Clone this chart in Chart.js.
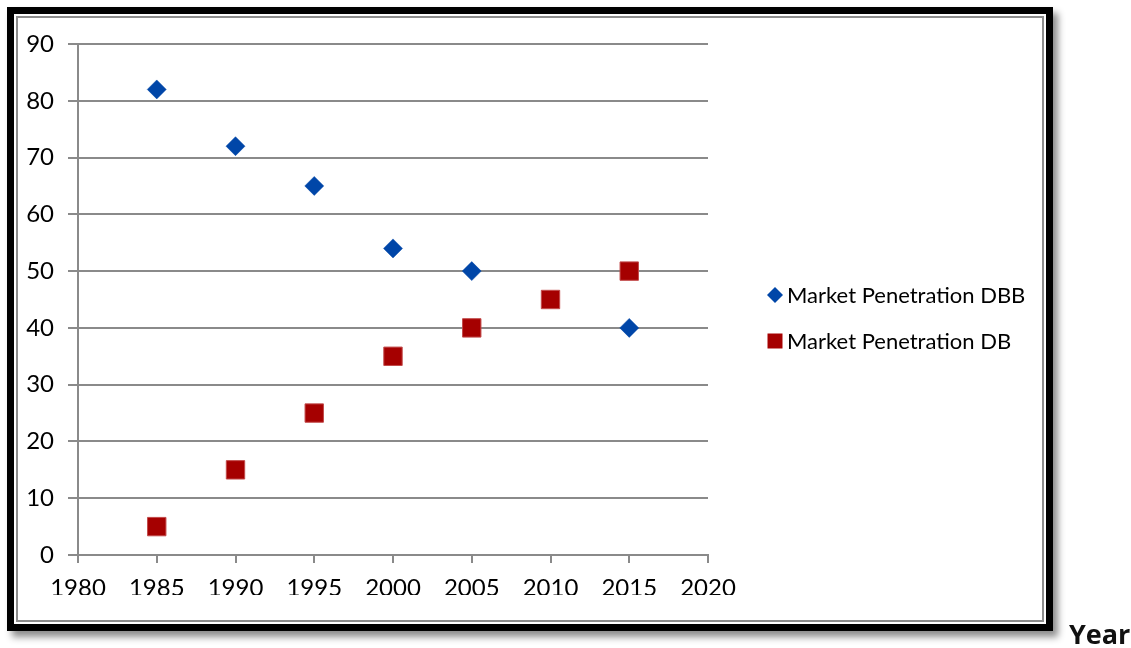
<!DOCTYPE html>
<html>
<head>
<meta charset="utf-8">
<title>Market Penetration</title>
<script src="https://cdn.jsdelivr.net/npm/chart.js@4.4.1/dist/chart.umd.min.js"></script>
<style>
  html, body { margin: 0; padding: 0; background: #fff; width: 1131px; height: 648px; overflow: hidden; }
  #frame {
    position: absolute; left: 7px; top: 7px; width: 1046px; height: 624px;
    box-sizing: border-box; border: 7px solid #000; background: #fff;
    box-shadow: 5px 6px 7px rgba(0, 0, 0, 0.45);
  }
  #inner { position: absolute; left: 2px; top: 2px; right: 2px; bottom: 2px; border: 2px solid #8c8c8c; background: #fff; }
  #wrap { position: absolute; left: 0; top: 0; width: 1131px; height: 648px; }
  #yearLabel { position: absolute; left: 1069px; top: 615px; font: bold 27px 'Open Sans', sans-serif; color: #111; }
</style>
</head>
<body>
<div id="frame"><div id="inner"></div></div>
<div id="wrap"><canvas id="grafik" width="1131" height="648"></canvas></div>
<div id="yearLabel">Year</div>
<script>
// data series
const years = [1985, 1990, 1995, 2000, 2005, 2010, 2015];
const penetrationDBB = [82, 72, 65, 54, 50, null, 40];
const penetrationDB = [5, 15, 25, 35, 40, 45, 50];
const xTicks = [1980, 1985, 1990, 1995, 2000, 2005, 2010, 2015, 2020];
const yTicks = [0, 10, 20, 30, 40, 50, 60, 70, 80, 90];
const seriesNames = ['Market Penetration DBB', 'Market Penetration DB'];

const fontUtama = "'Liberation Sans Narrow', 'Arial Narrow', Lato, sans-serif";
const warnaGaris = '#8a8a8a';

function toPoints(values) {
    return years.map((x, i) => ({ x, y: values[i] })).filter(p => p.y !== null);
}

// legend drawn beside the plot, one row per dataset
const legendKanan = {
    id: 'legendKanan',
    afterDraw(chart) {
        const ctx = chart.ctx;
        const area = chart.chartArea;
        const rows = [area.top + 251, area.top + 297];
        ctx.save();
        ctx.font = '22px ' + fontUtama;
        ctx.textBaseline = 'middle';
        chart.data.datasets.forEach((ds, i) => {
            const y = rows[i];
            const cx = area.right + 67;
            ctx.fillStyle = ds.backgroundColor;
            ctx.beginPath();
            if (ds.pointStyle === 'rectRot') {
                ctx.moveTo(cx - 8, y);
                ctx.lineTo(cx, y - 8);
                ctx.lineTo(cx + 8, y);
                ctx.lineTo(cx, y + 8);
                ctx.closePath();
            } else {
                ctx.rect(cx - 7.5, y - 7.5, 15, 15);
            }
            ctx.fill();
            ctx.fillStyle = '#000';
            ctx.fillText(ds.label, area.right + 79, y + 1);
        });
        ctx.restore();
    }
};

const ctx = document.getElementById('grafik').getContext('2d');
new Chart(ctx, {
    type: 'scatter',
    data: {
        datasets: [{
            label: seriesNames[0],
            data: toPoints(penetrationDBB),
            pointStyle: 'rectRot',
            pointRadius: 9.5,
            backgroundColor: '#0046a8',
            borderColor: '#0046a8',
            borderWidth: 0.5
        }, {
            label: seriesNames[1],
            data: toPoints(penetrationDB),
            pointStyle: 'rect',
            pointRadius: 13,
            backgroundColor: '#a50000',
            borderColor: '#c24a4a',
            borderWidth: 1
        }]
    },
    options: {
        responsive: false,
        animation: false,
        events: [],
        layout: { padding: { left: 0, top: 44, right: 423, bottom: 53 } },
        plugins: { legend: { display: false }, tooltip: { enabled: false } },
        scales: {
            x: {
                type: 'linear',
                min: xTicks[0],
                max: xTicks[xTicks.length - 1],
                afterBuildTicks(scale) { scale.ticks = xTicks.map(v => ({ value: v })); },
                afterFit(scale) { scale.height = 40; },
                ticks: {
                    callback: v => String(v),
                    color: '#000',
                    font: { family: fontUtama, size: 24 },
                    padding: 11,
                    maxRotation: 0,
                    autoSkip: false
                },
                grid: { drawOnChartArea: false, drawTicks: true, tickLength: 8, color: warnaGaris, lineWidth: 2 },
                border: { color: warnaGaris, width: 2 }
            },
            y: {
                min: yTicks[0],
                max: yTicks[yTicks.length - 1],
                afterBuildTicks(scale) { scale.ticks = yTicks.map(v => ({ value: v })); },
                afterFit(scale) { scale.width = 78; },
                ticks: {
                    callback: v => String(v),
                    color: '#000',
                    font: { family: fontUtama, size: 24 },
                    padding: 14
                },
                grid: { color: warnaGaris, lineWidth: 2, tickLength: 10 },
                border: { color: warnaGaris, width: 2 }
            }
        }
    },
    plugins: [legendKanan]
});
</script>
</body>
</html>
